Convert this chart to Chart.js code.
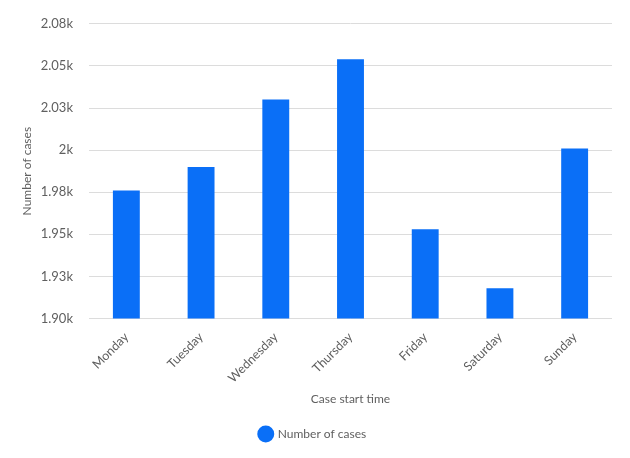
<!DOCTYPE html>
<html>
<head>
<meta charset="utf-8">
<style>
  html, body { margin: 0; padding: 0; background: #fff; }
  #wrap { width: 630px; height: 458px; position: relative; }
</style>
<script src="https://cdn.jsdelivr.net/npm/chart.js@4/dist/chart.umd.min.js"></script>
</head>
<body>
<div id="wrap"><canvas id="chart"></canvas></div>
<script>
const days = ['Monday', 'Tuesday', 'Wednesday', 'Thursday', 'Friday', 'Saturday', 'Sunday'];
const caseCounts = [1976, 1990, 2030, 2054, 1953, 1918, 2001];
const yTickValues = [1900, 1925, 1950, 1975, 2000, 2025, 2050, 2075];
const yTickLabels = ['1.90k', '1.93k', '1.95k', '1.98k', '2k', '2.03k', '2.05k', '2.08k'];

const textColor = '#5f5f5f';
const barColor = '#0a6ff7';

Chart.defaults.font.family = 'Lato, "Open Sans", sans-serif';
Chart.defaults.font.size = 12;
Chart.defaults.color = textColor;

new Chart(document.getElementById('chart'), {
  type: 'bar',
  data: {
    labels: days,
    datasets: [
      {
        label: 'Number of cases',
        data: caseCounts,
        backgroundColor: barColor,
        borderWidth: 0,
        categoryPercentage: 0.9,
        barPercentage: 0.4
      }
    ]
  },
  options: {
    responsive: true,
    maintainAspectRatio: false,
    animation: false,
    layout: { padding: { top: 14, right: 18, left: 14, bottom: 8 } },
    scales: {
      x: {
        grid: { display: false },
        border: { display: false },
        // keep the rotated first label from widening the left margin
        afterFit: (scale) => {
          scale.paddingLeft = 0;
        },
        ticks: { maxRotation: 45, minRotation: 45, color: textColor, font: { size: 12.5 } },
        title: { display: true, text: 'Case start time', color: textColor, font: { size: 12 }, padding: { top: 3, bottom: 8 } }
      },
      y: {
        min: 1900,
        max: 2075,
        border: { display: false },
        grid: { color: '#dcdcdc', drawTicks: false },
        afterBuildTicks: (axis) => {
          axis.ticks = yTickValues.map((v) => ({ value: v }));
        },
        afterFit: (scale) => {
          scale.width = 75;
        },
        ticks: {
          padding: 16,
          color: textColor,
          font: { size: 13 },
          callback: (value) => {
            const i = yTickValues.indexOf(value);
            return i >= 0 ? yTickLabels[i] : '';
          }
        },
        title: { display: true, text: 'Number of cases', color: textColor, font: { size: 12 }, padding: { top: 6, bottom: 3 } }
      }
    },
    plugins: {
      legend: {
        position: 'bottom',
        labels: {
          usePointStyle: true,
          pointStyle: 'circle',
          boxWidth: 13,
          boxHeight: 13,
          color: textColor,
          font: { size: 12 },
          padding: 14
        }
      },
      tooltip: { enabled: false }
    }
  }
});
</script>
</body>
</html>
